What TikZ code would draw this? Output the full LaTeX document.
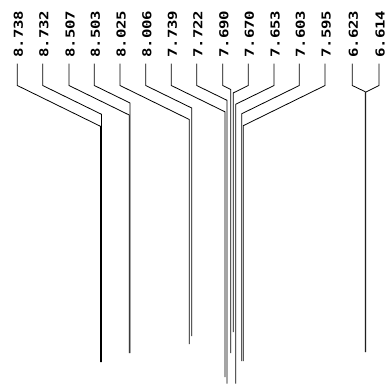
\documentclass[tikz,border=0pt]{standalone}
\usepackage{fontspec}
\newfontfamily\lblfont{DejaVu Sans Mono}
\tikzset{
  lbl/.style={rotate=90, anchor=west, inner sep=0pt, font=\lblfont\bfseries\fontsize{12.35}{14}\selectfont},
  conn/.style={draw=black, line width=0.8pt, line join=miter}
}
\begin{document}
\begin{tikzpicture}[x=1pt,y=-1pt]
\useasboundingbox (0,0) rectangle (387,384);
\foreach \i/\lab/\lx/\px/\jy/\by in {
  1/8.738/17.3/100.5/126.3/362,
  2/8.732/42.7/101.5/114.3/362,
  3/8.507/69/129.2/115/353,
  4/8.503/94.3/129.9/102.9/353,
  5/8.025/120/189.3/119.5/344,
  6/8.006/145.7/191.7/108/336,
  7/7.739/171.3/225/111.8/377,
  8/7.722/196.7/227/100.3/383.5,
  9/7.690/222.7/230.8/89.5/353,
  10/7.670/248.3/233.3/92.9/332,
  11/7.653/274/235.8/104.2/383.5,
  12/7.603/299.3/241.8/113.7/361,
  13/7.595/325/243.2/125.7/361,
  14/6.623/352.3/365.2/91.7/352,
  15/6.614/379/365.8/92.1/352}
{
  \node[lbl] (l\i) at (\lx+1.2,58) {\scalebox{1.27}[1]{\lab}};
  \coordinate (t\i) at (\lx,63.5);
  \coordinate (p\i) at (\px,\by);
  \draw[conn] (t\i) -- ++(0,22) -- (\px,\jy) -- (p\i);
}
\end{tikzpicture}
\end{document}
